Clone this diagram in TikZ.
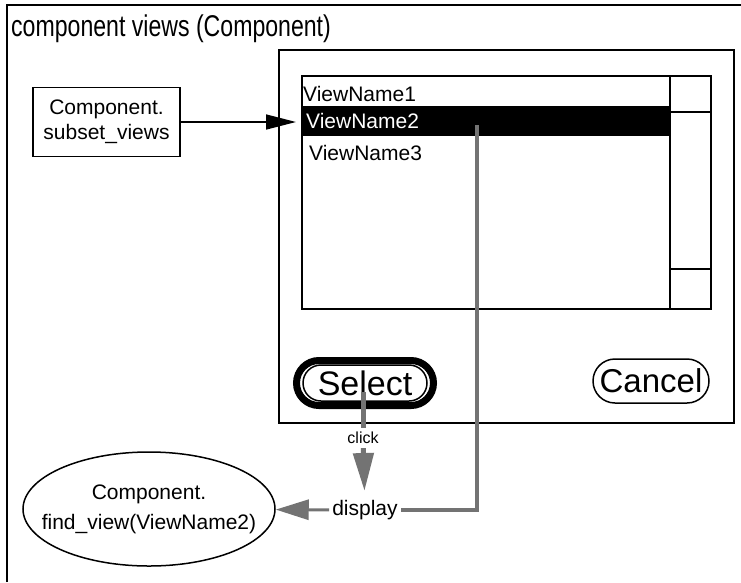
\documentclass[tikz,border=0pt]{standalone}
\usepackage{fontspec}
\setmainfont{Liberation Sans}
\newfontfamily\narrowsans[FakeStretch=0.77]{Liberation Sans}
\usetikzlibrary{positioning,arrows.meta,shapes.misc,shapes.geometric}
\newcommand{\fsize}[2]{\fontsize{#1}{#2}\selectfont}

\begin{document}
\begin{tikzpicture}[x=1pt, y=-1pt, inner sep=0pt,
    box/.style={draw, line width=2pt},
    item/.style={anchor=west, font=\fsize{21}{25}},
    pill/.style={draw, rounded rectangle, line width=1.5pt},
    trail/.style={draw=black!55, line width=5pt},
    pointer/.style={-{Triangle[length=#1, width=20pt]}, black!55}]
    \useasboundingbox (0,0) rectangle (741,582) ;
    \draw [line width=2pt] (7,582) -- (7,5) -- (741,5) ;
    \node [anchor=west, font=\narrowsans\fsize{30}{34}] (title) at (11,29) {component views (Component)} ;

    \node [box, minimum width=455pt, minimum height=373pt] (dialog) at (506.5,236.5) {} ;
    \node [box, minimum width=409pt, minimum height=233pt] (list) at (506.5,192.5) {} ;
      \draw [line width=2pt] (670,76) -- (670,309) (670,112) -- (711,112) (670,269) -- (711,269) ;
      \fill (302,106) rectangle (670,136) ;
      \node [item] (first) at (303,94) {ViewName1} ;
      \node [item, text=white] (second) at (306,121) {ViewName2} ;
      \node [item] (third) at (309,153) {ViewName3} ;
      \coordinate (pick) at (477,125) ;

    \node [pill, line width=7pt, minimum width=137pt, minimum height=45pt] (select) at (365,383) {} ;
      \node [pill, minimum width=124pt, minimum height=36pt, font=\fsize{34}{38}] (selectlabel) at (select) {Select} ;
    \node [pill, minimum width=116pt, minimum height=44pt, font=\fsize{33}{37}] (cancel) at (651,381) {Cancel} ;

    \node [draw, line width=1.5pt, align=center, font=\fsize{21}{25}, minimum width=147pt, minimum height=69pt] (subset) at (106.5,122) {Component.\\subset\_views} ;
    \node [draw, ellipse, line width=1.5pt, align=center, font=\fsize{21}{30}, inner xsep=-22pt, minimum width=252pt, minimum height=114pt] (find) at (149,509) {Component.\\find\_view(ViewName2)} ;

    \coordinate (press) at (363,392) ;
    \node [font=\fsize{16}{19}, inner sep=4pt] (click) at (363,438) {click} ;
    \node [font=\fsize{21}{25}, inner sep=3pt] (display) at (365,510) {display} ;

    \path [line width=1.5pt, -{Triangle[length=30pt, width=15pt]}, shorten >=5pt] (subset.east) edge (subset.east -| list.west) ;
    \path [trail] (press) edge (click) ;
    \path [trail, pointer=38pt, shorten >=6pt] (click) edge (display) ;
    \draw [trail, line width=4pt] (pick) |- (display) ;
    \path [trail, line width=3pt, pointer=33pt] (display) edge (find) ;
\end{tikzpicture}
\end{document}
